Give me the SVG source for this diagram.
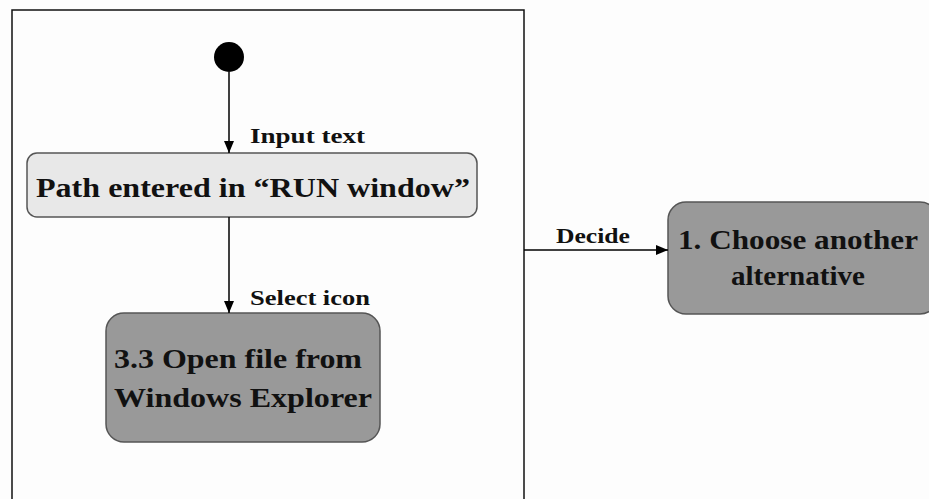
<svg xmlns="http://www.w3.org/2000/svg" width="929" height="499" viewBox="0 0 929 499">
<defs>
<marker id="arr" markerWidth="12" markerHeight="10" refX="12" refY="5" orient="auto" markerUnits="userSpaceOnUse">
<path d="M0,0 L12,5 L0,10 Z" fill="#000"/>
</marker>
<style>
.state{stroke:#555;stroke-width:1.5}
.t{font-family:"Liberation Serif","Times New Roman",serif;font-weight:bold;fill:#111}
.big{font-size:28px}
.lbl{font-size:20px}
.c{stroke:#000;stroke-width:1.5;fill:none}
</style>
</defs>
<rect width="929" height="499" fill="#fdfdfd"/>
<rect id="frame" x="12" y="10" width="512" height="500" fill="none" stroke="#111" stroke-width="1.5"/>
<g id="start"><circle cx="229" cy="57" r="15" fill="#000"/></g>
<g id="n1">
<rect class="state" x="27" y="153" width="450" height="64" rx="10" fill="#e8e8e8"/>
<text class="t big" x="36" y="197" textLength="434" lengthAdjust="spacingAndGlyphs">Path entered in “RUN window”</text>
</g>
<g id="n2">
<rect class="state" x="106" y="313" width="274" height="129" rx="18" fill="#999"/>
<text class="t big" x="114" y="368" textLength="248" lengthAdjust="spacingAndGlyphs">3.3 Open file from</text>
<text class="t big" x="114" y="407" textLength="258" lengthAdjust="spacingAndGlyphs">Windows Explorer</text>
</g>
<g id="n3">
<rect class="state" x="668" y="202" width="270" height="112" rx="18" fill="#999"/>
<text class="t big" x="678" y="249" textLength="240" lengthAdjust="spacingAndGlyphs">1. Choose another</text>
<text class="t big" x="731" y="285" textLength="134" lengthAdjust="spacingAndGlyphs">alternative</text>
</g>
<g id="connectors">
<line class="c" x1="229" y1="72" x2="229" y2="153" marker-end="url(#arr)"/>
<line class="c" x1="229" y1="217" x2="229" y2="313" marker-end="url(#arr)"/>
<line class="c" x1="524" y1="250" x2="668" y2="250" marker-end="url(#arr)"/>
<text class="t lbl" x="250" y="143" textLength="115" lengthAdjust="spacingAndGlyphs">Input text</text>
<text class="t lbl" x="250" y="305" textLength="120" lengthAdjust="spacingAndGlyphs">Select icon</text>
<text class="t lbl" x="556" y="243" textLength="74" lengthAdjust="spacingAndGlyphs">Decide</text>
</g>
</svg>
